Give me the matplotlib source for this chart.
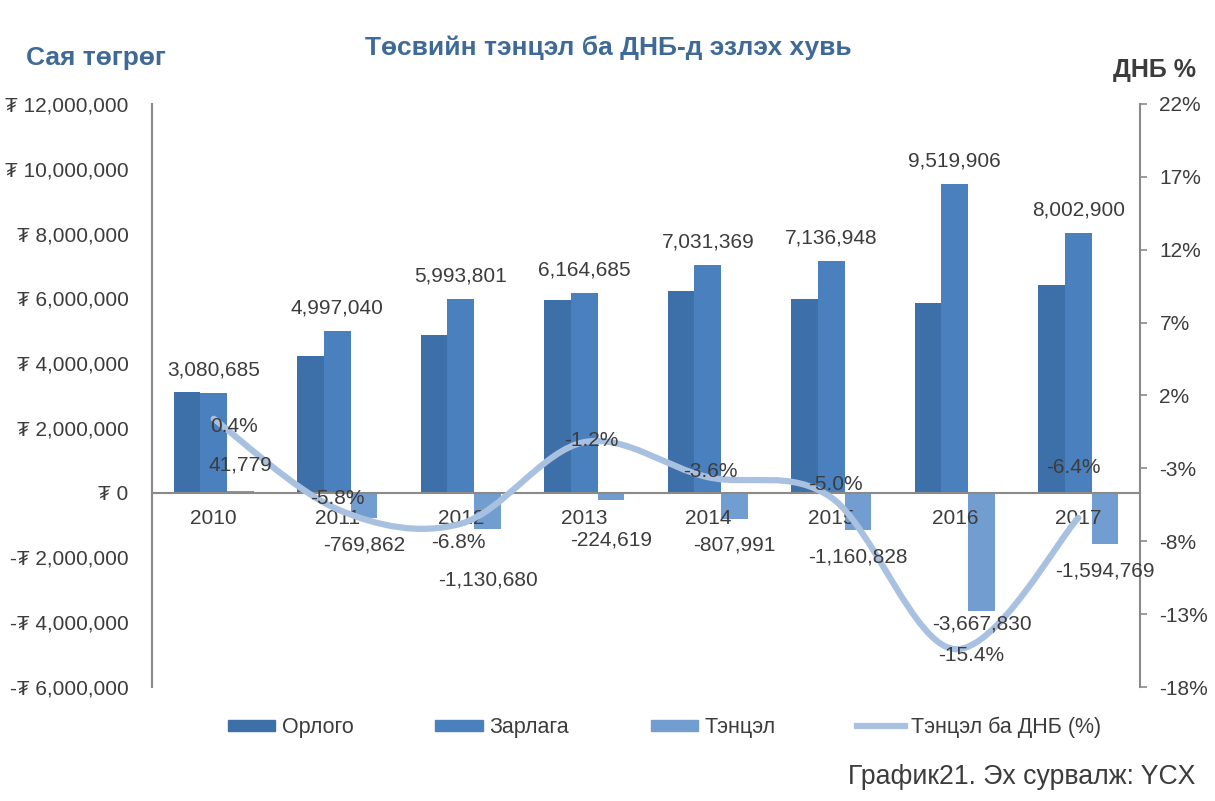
import matplotlib
matplotlib.use("Agg")
import matplotlib.pyplot as plt
import numpy as np
from matplotlib.path import Path
from matplotlib.patches import PathPatch, Patch
from matplotlib.lines import Line2D
from matplotlib.ticker import FuncFormatter, MultipleLocator, FixedLocator

plt.rcParams['font.family'] = ['Liberation Sans', 'DejaVu Sans']

years = ["2010", "2011", "2012", "2013", "2014", "2015", "2016", "2017"]
zarlaga = [3080685, 4997040, 5993801, 6164685, 7031369, 7136948, 9519906, 8002900]
tentsel = [41779, -769862, -1130680, -224619, -807991, -1160828, -3667830, -1594769]
orlogo = [z + t for z, t in zip(zarlaga, tentsel)]
gdp_pct = [0.4, -5.8, -6.8, -1.2, -3.6, -5.0, -15.4, -6.4]
pct_ticks = [-18, -13, -8, -3, 2, 7, 12, 17, 22]

c_orlogo = "#3d70a8"
c_zarlaga = "#4a80bd"
c_tentsel = "#729dd0"
c_line = "#a9c1e0"
c_title = "#3f6a98"
c_text = "#3c3c3c"
c_axis = "#8a8a8a"
fs = 15

fig = plt.figure(figsize=(12.15, 8.01), dpi=100)
ax = fig.add_axes([0.1251, 0.1423, 0.8132, 0.7279])
ax2 = ax.twinx()

x = np.arange(len(years))
w = 0.217
ax.bar(x - w, orlogo, w, color=c_orlogo, zorder=2)
ax.bar(x, zarlaga, w, color=c_zarlaga, zorder=2)
ax.bar(x + w, tentsel, w, color=c_tentsel, zorder=2)

ax.set_xlim(-0.5, len(years) - 0.5)
ax.set_ylim(-6e6, 12e6)
ax.yaxis.set_major_locator(MultipleLocator(2e6))


def tug(v, pos):
    if v < 0:
        return "-\u20ae {:,.0f}".format(-v)
    return "\u20ae {:,.0f}".format(v)


ax.yaxis.set_major_formatter(FuncFormatter(tug))
ax.tick_params(axis='y', length=0, pad=17, labelsize=fs, labelcolor=c_text)
ax.set_xticks(x, years)
ax.tick_params(axis='x', length=0, pad=12, labelsize=fs, labelcolor=c_text)
ax.xaxis.set_zorder(5)
ax.spines['bottom'].set_position(('data', 0))
ax.spines['bottom'].set_zorder(4)
for s in ['top', 'right']:
    ax.spines[s].set_visible(False)
for s in ['left', 'bottom']:
    ax.spines[s].set_color(c_axis)
    ax.spines[s].set_linewidth(1.5)

# secondary axis
ax2.set_ylim(-18, 22)
ax2.yaxis.set_major_locator(FixedLocator(pct_ticks))
ax2.yaxis.set_major_formatter(FuncFormatter(lambda v, p: "{:d}%".format(int(round(v)))))
ax2.tick_params(axis='y', direction='out', length=5, width=1.2, color=c_axis,
                pad=9, labelsize=fs, labelcolor=c_text)
for s in ['top', 'left', 'bottom']:
    ax2.spines[s].set_visible(False)
ax2.spines['right'].set_color(c_axis)
ax2.spines['right'].set_linewidth(1.5)

# smoothed line (Catmull-Rom bezier through the data points)
pts = np.column_stack([x, gdp_pct]).astype(float)
ext = np.vstack([pts[0], pts, pts[-1]])
verts = [tuple(pts[0])]
codes = [Path.MOVETO]
for i in range(len(pts) - 1):
    p0, p1, p2, p3 = ext[i], ext[i + 1], ext[i + 2], ext[i + 3]
    c1 = p1 + (p2 - p0) / 6.0
    c2 = p2 - (p3 - p1) / 6.0
    verts += [tuple(c1), tuple(c2), tuple(p2)]
    codes += [Path.CURVE4] * 3
ax2.add_patch(PathPatch(Path(verts, codes), facecolor='none', edgecolor=c_line,
                        lw=4.5, capstyle='round', joinstyle='round', zorder=3))

# data labels (offsets in pixels)
for i, v in enumerate(zarlaga):
    ax2.annotate("{:,}".format(v), (x[i], v), xycoords=ax.transData,
                 xytext=(0, 23 * 0.72), textcoords='offset points',
                 ha='center', va='center', fontsize=fs, color=c_text, zorder=5)

tent_dist = [26, 27, 51, 40, 26, 27, 13, 27]
for i, v in enumerate(tentsel):
    d = tent_dist[i] if v >= 0 else -tent_dist[i]
    ax2.annotate("{:,}".format(v), (x[i] + w, v), xycoords=ax.transData,
                 xytext=(0, d * 0.72), textcoords='offset points',
                 ha='center', va='center', fontsize=fs, color=c_text, zorder=5)

pct_off = [(20, -8), (0, 11), (-2, -19), (7, 2), (3, 6), (4, 13), (16, -6), (-5, 50)]
for i, v in enumerate(gdp_pct):
    dx, dy = pct_off[i]
    ax2.annotate("{:.1f}%".format(v), (x[i], v),
                 xytext=(dx * 0.72, dy * 0.72), textcoords='offset points',
                 ha='center', va='center', fontsize=fs, color=c_text, zorder=5)

# titles
fig.text(0.501, 0.941, "Төсвийн тэнцэл ба ДНБ-д эзлэх хувь", ha='center', va='center',
         fontsize=19, fontweight='bold', color=c_title)
fig.text(0.021, 0.928, "Сая төгрөг", ha='left', va='center',
         fontsize=19, fontweight='bold', color=c_title)
fig.text(0.984, 0.913, "ДНБ %", ha='right', va='center',
         fontsize=18, fontweight='bold', color=c_text)

handles = [Patch(color=c_orlogo), Patch(color=c_zarlaga), Patch(color=c_tentsel),
           Line2D([], [], color=c_line, lw=4.5)]
fig.legend(handles, ["Орлого", "Зарлага", "Тэнцэл", "Тэнцэл ба ДНБ (%)"],
           loc='center', bbox_to_anchor=(0.547, 0.092), ncol=4, frameon=False,
           fontsize=15.5, handlelength=2.2, handleheight=0.45, handletextpad=0.3,
           columnspacing=3.8, labelcolor=c_text)

fig.text(0.984, 0.03, "График21. Эх сурвалж: YCX", ha='right', va='center',
         fontsize=19.2, color=c_text)

plt.savefig("out.png", dpi=100)
